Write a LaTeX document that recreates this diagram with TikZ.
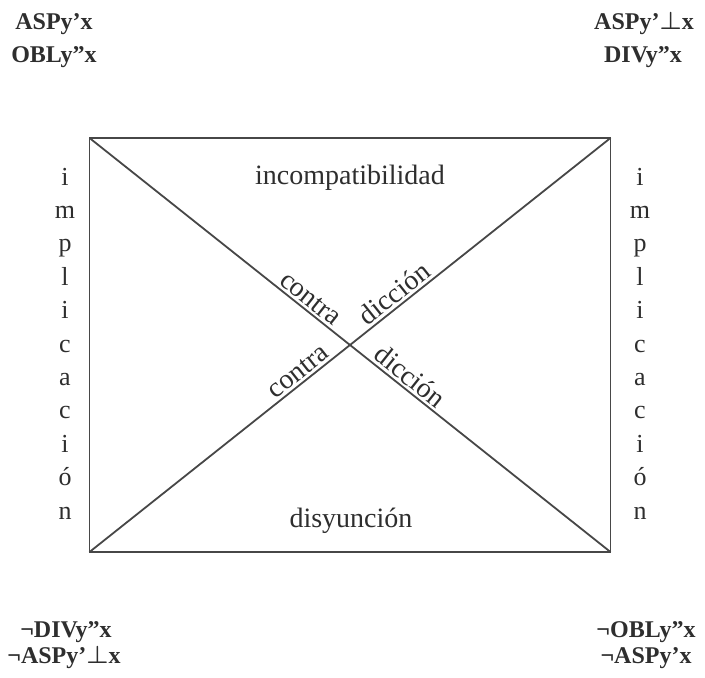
\documentclass[tikz,border=0pt]{standalone}
\usepackage{fontspec}
\setmainfont{Liberation Serif}
\begin{document}
\begin{tikzpicture}[x=1pt,y=1pt,
  edge/.style={draw=black!72, line width=1.8pt},
  lbl/.style={text=black!82, font=\fontsize{28}{30}\selectfont, inner sep=0pt},
  vert/.style={text=black!82, font=\fontsize{26}{33.4}\selectfont, inner sep=0pt, align=center},
  corner/.style={text=black!82, font=\fontsize{24}{26}\selectfont\bfseries\boldmath, inner sep=0pt, anchor=base},
  diag/.style={text=black!82, font=\fontsize{28}{30}\selectfont, sloped, above=2.5pt, inner sep=0pt}]
\useasboundingbox (0,0) rectangle (705,678);
\coordinate (tl) at (89.5,540);
\coordinate (tr) at (610.5,540);
\coordinate (bl) at (89.5,126);
\coordinate (br) at (610.5,126);
\draw[edge] (tl) rectangle (br);
\draw[edge] (tl) -- (br)
  node[diag,pos=0.41] (c1) {contra}
  node[diag,pos=0.60] (d2) {dicción};
\draw[edge] (bl) -- (tr)
  node[diag,pos=0.414] (c2) {contra}
  node[diag,pos=0.60] (d1) {dicción};
\node[lbl,anchor=base] (inc) at (350,493) {incompatibilidad};
\node[lbl,anchor=base] (dis) at (351,150) {disyunción};
\node[vert] (impL) at (65,334.5) {i\\m\\p\\l\\i\\c\\a\\c\\i\\ó\\n};
\node[vert] (impR) at (640,334.5) {i\\m\\p\\l\\i\\c\\a\\c\\i\\ó\\n};
\node[corner] (tl1) at (54,648) {ASPy’x};
\node[corner] (tl2) at (54,615) {OBLy”x};
\node[corner] (tr1) at (644,648) {ASPy’$\perp$x};
\node[corner] (tr2) at (643,615) {DIVy”x};
\node[corner] (bl1) at (66,40) {¬DIVy”x};
\node[corner] (bl2) at (64,14) {¬ASPy’$\perp$x};
\node[corner] (br1) at (646,40) {¬OBLy”x};
\node[corner] (br2) at (646,14) {¬ASPy’x};
\end{tikzpicture}
\end{document}
